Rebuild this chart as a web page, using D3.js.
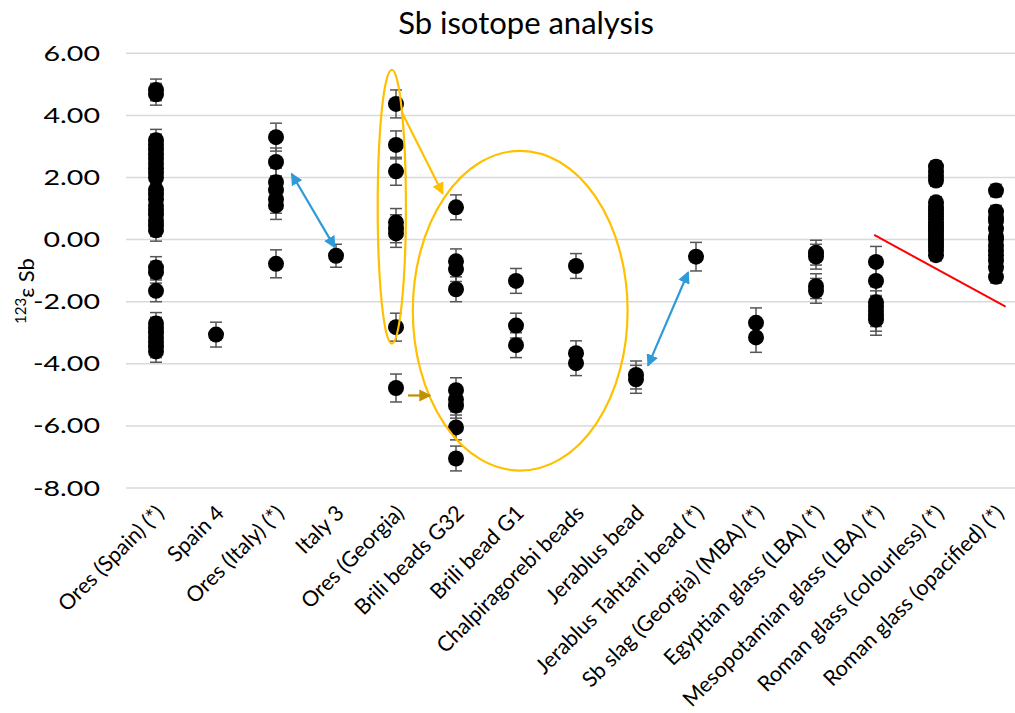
<!DOCTYPE html>
<html>
<head>
<meta charset="utf-8">
<script src="https://cdn.jsdelivr.net/npm/d3@7"></script>
<style>
body { margin: 0; background: #fff; }
svg { display: block; font-family: Lato, "Open Sans", sans-serif; }
.grid line { stroke: #d9d9d9; stroke-width: 1.5; }
.tick-label { font-size: 21.5px; fill: #000; }
</style>
</head>
<body>
<svg id="chart" width="1015" height="713"></svg>
<script>
const categories = [
    "Ores (Spain) (*)", "Spain 4", "Ores (Italy) (*)", "Italy 3", "Ores (Georgia)",
    "Brili beads G32", "Brili bead G1", "Chalpiragorebi beads", "Jerablus bead",
    "Jerablus Tahtani bead (*)", "Sb slag (Georgia) (MBA) (*)", "Egyptian glass (LBA) (*)",
    "Mesopotamian glass (LBA) (*)", "Roman glass (colourless) (*)", "Roman glass (opacified) (*)"
];

const oresSpain = [4.82, 4.68, 3.2, 3.05, 2.9, 2.75, 2.6, 2.45, 2.3, 2.15, 2.0, 1.6, 1.45, 1.3,
    1.1, 0.95, 0.8, 0.6, 0.45, 0.3, -0.9, -1.05, -1.65, -2.7, -2.85, -3.0, -3.15, -3.3, -3.45, -3.6];
const spain4 = [-3.06];
const oresItaly = [3.3, 2.5, 1.85, 1.6, 1.3, 1.1, -0.78];
const italy3 = [-0.52];
const oresGeorgia = [4.37, 3.05, 2.2, 0.55, 0.35, 0.2, -2.82, -4.78];
const briliG32 = [1.04, -0.7, -0.95, -1.6, -4.85, -5.15, -5.35, -6.05, -7.05];
const briliG1 = [-1.33, -2.77, -3.4];
const chalpiragorebi = [-0.85, -3.66, -3.98];
const jerablusBead = [-4.36, -4.5];
const jerablusTahtani = [-0.55];
const sbSlag = [-2.68, -3.15];
const egyptian = [-0.42, -0.55, -1.5, -1.65];
const mesopotamian = [-0.72, -1.33, -2.02, -2.15, -2.3, -2.45, -2.58];
const romanColourless = [2.35, 2.2, 2.05, 1.9, 1.2, 1.05, 0.95, 0.85, 0.75, 0.65, 0.55, 0.45,
    0.35, 0.25, 0.15, 0.05, -0.05, -0.15, -0.25, -0.35, -0.5];
const romanOpacified = [1.58, 0.9, 0.7, 0.6, 0.35, 0.1, 0.0, -0.2, -0.35, -0.5, -0.68, -0.9, -1.2];

const seriesValues = [oresSpain, spain4, oresItaly, italy3, oresGeorgia, briliG32, briliG1,
    chalpiragorebi, jerablusBead, jerablusTahtani, sbSlag, egyptian, mesopotamian,
    romanColourless, romanOpacified];
// 2SD uncertainty per group
const errors = [0.35, 0.4, 0.45, 0.37, 0.45, 0.4, 0.4, 0.4, 0.45, 0.46, 0.48, 0.4, 0.5, 0.18, 0.2];
const yTicks = [-8, -6, -4, -2, 0, 2, 4, 6];

// hand drawn annotations, in data units (category index, epsilon value)
const ellipses = [
    { i: 3.93, v: 1.06, ri: 0.235, rv: 4.41 },
    { i: 6.07, v: -2.29, ri: 1.79, rv: 5.15 }
];
const arrows = [
    { i1: 4.1, v1: 4.09, i2: 4.78, v2: 1.48, kind: "gold" },
    { i1: 4.2, v1: -5.02, i2: 4.57, v2: -5.02, kind: "darkgold" },
    { i1: 2.26, v1: 2.12, i2: 2.98, v2: -0.25, kind: "blue" },
    { i1: 8.87, v1: -1.05, i2: 8.2, v2: -4.06, kind: "blue" }
];
const trendLine = [{ i: 11.97, v: 0.15 }, { i: 14.16, v: -2.16 }];

const svg = d3.select("#chart");
const width = 1015, height = 713;

const x = d3.scaleBand().domain(categories).range([126, 1026]).padding(0);
const y = d3.scaleLinear().domain([-8, 6]).range([488, 53.3]);
const xi = i => x(categories[0]) + x.step() * i + x.bandwidth() / 2;
const yLen = d3.scaleLinear().domain([0, 1]).range([0, y(0) - y(1)]); // units -> px length

const colors = { gold: "#ffc000", darkgold: "#c09000", blue: "#2e9ad8" };

const defs = svg.append("defs");
Object.entries(colors).forEach(([k, c]) => {
    defs.append("marker")
        .attr("id", "head-" + k)
        .attr("viewBox", "0 0 10 10")
        .attr("refX", 9).attr("refY", 5)
        .attr("markerWidth", 5.5).attr("markerHeight", 5.5)
        .attr("orient", "auto-start-reverse")
        .append("path")
        .attr("d", "M0,0 L10,5 L0,10 z")
        .attr("fill", c);
});

// title
svg.append("text")
    .attr("x", 526).attr("y", 34)
    .attr("text-anchor", "middle")
    .style("font-size", "31px")
    .text("Sb isotope analysis");

// gridlines
svg.append("g").attr("class", "grid")
    .selectAll("line").data(yTicks).join("line")
    .attr("x1", 126).attr("x2", width)
    .attr("y1", d => y(d)).attr("y2", d => y(d));

// y axis labels (plain hyphen minus like the original)
const yAxis = d3.axisLeft(y).tickValues(yTicks).tickFormat(d => d.toFixed(2)).tickSize(0).tickPadding(0);
svg.append("g")
    .attr("transform", "translate(100,0)")
    .call(yAxis)
    .call(g => g.select(".domain").remove())
    .call(g => g.selectAll("text")
        .attr("class", "tick-label")
        .style("font-family", "Lato, sans-serif")
        .style("font-size", "22px")
        .attr("transform", "scale(1.3,1)"));

// y axis title
const yt = svg.append("text")
    .attr("transform", "translate(34,291) rotate(-90)")
    .attr("text-anchor", "middle")
    .style("font-size", "22px");
yt.append("tspan").style("font-size", "15px").attr("dy", -8).text("123");
yt.append("tspan").attr("dy", 8).text("ε Sb");

// x labels
svg.append("g")
    .selectAll("text").data(categories).join("text")
    .attr("class", "tick-label")
    .attr("text-anchor", "end")
    .attr("transform", d => `translate(${x(d) + x.bandwidth() / 2 + 4},509) rotate(-45)`)
    .attr("dy", "0.35em")
    .text(d => d);

// points
const pts = [];
seriesValues.forEach((vals, ci) => vals.forEach(v => pts.push({ c: categories[ci], v, e: errors[ci] })));

const cx = d => x(d.c) + x.bandwidth() / 2;

const eb = svg.append("g").attr("stroke", "#555").attr("stroke-width", 1.5);
eb.selectAll("line.v").data(pts).join("line").attr("class", "v")
    .attr("x1", cx).attr("x2", cx)
    .attr("y1", d => y(d.v + d.e)).attr("y2", d => y(d.v - d.e));
eb.selectAll("line.t").data(pts).join("line").attr("class", "t")
    .attr("x1", d => cx(d) - 6).attr("x2", d => cx(d) + 6)
    .attr("y1", d => y(d.v + d.e)).attr("y2", d => y(d.v + d.e));
eb.selectAll("line.b").data(pts).join("line").attr("class", "b")
    .attr("x1", d => cx(d) - 6).attr("x2", d => cx(d) + 6)
    .attr("y1", d => y(d.v - d.e)).attr("y2", d => y(d.v - d.e));

svg.append("g")
    .selectAll("circle").data(pts).join("circle")
    .attr("cx", cx).attr("cy", d => y(d.v)).attr("r", 8)
    .attr("fill", "#000");

// annotations
svg.append("g").selectAll("ellipse").data(ellipses).join("ellipse")
    .attr("cx", d => xi(d.i)).attr("cy", d => y(d.v))
    .attr("rx", d => d.ri * x.step()).attr("ry", d => yLen(d.rv))
    .attr("fill", "none").attr("stroke", colors.gold).attr("stroke-width", 2.2);

svg.append("g").selectAll("line").data(arrows).join("line")
    .attr("x1", d => xi(d.i1)).attr("y1", d => y(d.v1))
    .attr("x2", d => xi(d.i2)).attr("y2", d => y(d.v2))
    .attr("stroke", d => colors[d.kind]).attr("stroke-width", 2.2)
    .attr("marker-end", d => `url(#head-${d.kind})`)
    .attr("marker-start", d => d.kind === "blue" ? "url(#head-blue)" : null);

svg.append("path")
    .datum(trendLine)
    .attr("d", d3.line().x(d => xi(d.i)).y(d => y(d.v)))
    .attr("stroke", "#ff0000").attr("stroke-width", 2).attr("fill", "none");
</script>
</body>
</html>
